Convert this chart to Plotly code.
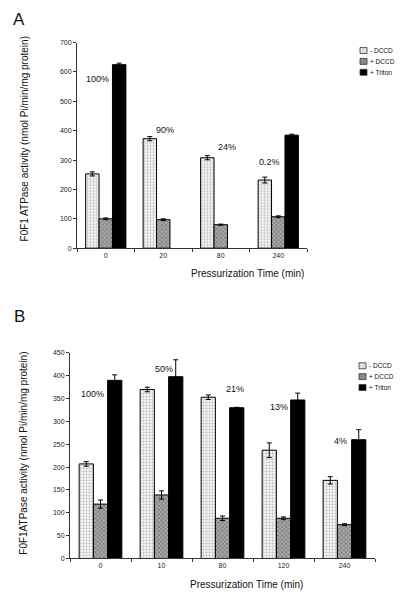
import plotly.graph_objects as go

# ---------------- data ----------------
cats_a = ["0", "20", "80", "240"]
minus_dccd_a = [253, 373, 308, 232]
minus_dccd_a_err = [7, 7, 7, 10]
plus_dccd_a = [100, 97, 80, 107]
plus_dccd_a_err = [3, 3, 2, 3]
triton_a = [625, None, None, 385]
triton_a_err = [5, 0, 0, 3]
pct_a = ["100%", "90%", "24%", "0.2%"]
pct_a_y = [575, 404, 343, 293]

cats_b = ["0", "10", "80", "120", "240"]
minus_dccd_b = [207, 370, 353, 237, 171]
minus_dccd_b_err = [5, 5, 5, 16, 8]
plus_dccd_b = [119, 139, 88, 88, 74]
plus_dccd_b_err = [9, 9, 5, 3, 2]
triton_b = [390, 398, 330, 347, 260]
triton_b_err = [12, 37, 1, 15, 22]
pct_b = ["100%", "50%", "21%", "13%", "4%"]
pct_b_y = [359, 415, 370, 331, 257]

series_names = ["- DCCD", "+ DCCD", "+ Triton"]
ytitle_a = "F0F1 ATPase activity (nmol Pi/min/mg protein)"
ytitle_b = "F0F1ATPase activity (nmol Pi/min/mg protein)"
xtitle = "Pressurization Time (min)"

# ---------------- styles / layout helpers ----------------
FONT = "Liberation Sans, Arial, sans-serif"
OFF = 8            # default page body margin
W, H = 405 - OFF, 601 - OFF

styles = [
    dict(color="white", pattern=dict(shape="+", fgcolor="#7a7a7a", bgcolor="#f4f4f4", size=3, solidity=0.3)),
    dict(color="#999", pattern=dict(shape="x", fgcolor="#2a2a2a", bgcolor="#a8a8a8", size=3, solidity=0.35)),
    dict(color="black"),
]
swatch_fill = ["#e0e0e0", "#8a8a8a", "#000000"]

def PX(px):
    return (px - OFF) / W

def PY(py):
    return 1 - (py - OFF) / H

fig = go.Figure()

def add_panel(cats, vals, errs, xa, ya):
    for i, (v, e) in enumerate(zip(vals, errs)):
        fig.add_trace(go.Bar(
            x=cats, y=v, name=series_names[i], showlegend=False,
            marker=dict(line=dict(color="black", width=1), **styles[i]),
            error_y=dict(type="data", array=e, color="black", thickness=1, width=2.5),
            xaxis=xa, yaxis=ya,
        ))

add_panel(cats_a, [minus_dccd_a, plus_dccd_a, triton_a],
          [minus_dccd_a_err, plus_dccd_a_err, triton_a_err], "x", "y")
add_panel(cats_b, [minus_dccd_b, plus_dccd_b, triton_b],
          [minus_dccd_b_err, plus_dccd_b_err, triton_b_err], "x2", "y2")

shifts_a = [-8, 2, 6, -9]
for i, (t, y, s) in enumerate(zip(pct_a, pct_a_y, shifts_a)):
    fig.add_annotation(x=i, y=y, text=t, xref="x", yref="y", showarrow=False,
                       xshift=s, font=dict(size=9, color="#111", family=FONT))
shifts_b = [-8, 2, 12, -5, -4]
for i, (t, y, s) in enumerate(zip(pct_b, pct_b_y, shifts_b)):
    fig.add_annotation(x=i, y=y, text=t, xref="x2", yref="y2", showarrow=False,
                       xshift=s, font=dict(size=9, color="#111", family=FONT))

def text(px, py, t, size, angle=0, xanchor="center"):
    fig.add_annotation(x=PX(px), y=PY(py), xref="paper", yref="paper", text=t, textangle=angle,
                       xanchor=xanchor, yanchor="middle", showarrow=False,
                       font=dict(size=size, color="#111", family=FONT))

text(19, 16, "A", 17)
text(19, 316, "B", 17)
text(24, 137, ytitle_a, 10, -90)
text(24, 455, ytitle_b, 10, -90)
text(306, 273, xtitle, 10, xanchor="right")
text(246, 587, xtitle, 10)

# manual legends
def legend(px, py0, step):
    for i, name in enumerate(series_names):
        cy = py0 + i * step
        fig.add_shape(type="rect", xref="paper", yref="paper",
                      x0=PX(px), x1=PX(px + 7), y0=PY(cy + 3), y1=PY(cy - 3),
                      fillcolor=swatch_fill[i], line=dict(color="#333", width=0.8))
        text(px + 8, cy, name, 6.5, xanchor="left")

legend(360, 47, 11)
legend(359, 366, 11)

axis_common = dict(showline=True, linecolor="#333", linewidth=1, ticks="outside",
                   ticklen=3, tickcolor="#333", showgrid=False, zeroline=False,
                   tickfont=dict(size=7, color="#222", family=FONT))

fig.update_layout(
    width=W, height=H,
    margin=dict(l=0, r=0, t=0, b=0),
    paper_bgcolor="white", plot_bgcolor="white",
    barmode="group", bargap=0.3, bargroupgap=0,
    font=dict(family=FONT, color="#111"),
    showlegend=False,
    xaxis=dict(domain=[PX(77), PX(307)], anchor="y", type="category", tickson="boundaries",
               range=[-0.5, len(cats_a) - 0.5], **axis_common),
    yaxis=dict(domain=[PY(247), PY(39)], anchor="x", range=[0, 700], dtick=100, **axis_common),
    xaxis2=dict(domain=[PX(70), PX(375)], anchor="y2", type="category", tickson="boundaries",
                range=[-0.5, len(cats_b) - 0.5], **axis_common),
    yaxis2=dict(domain=[PY(561), PY(353)], anchor="x2", range=[0, 450], dtick=50, **axis_common),
)

fig.write_html("out.html")
